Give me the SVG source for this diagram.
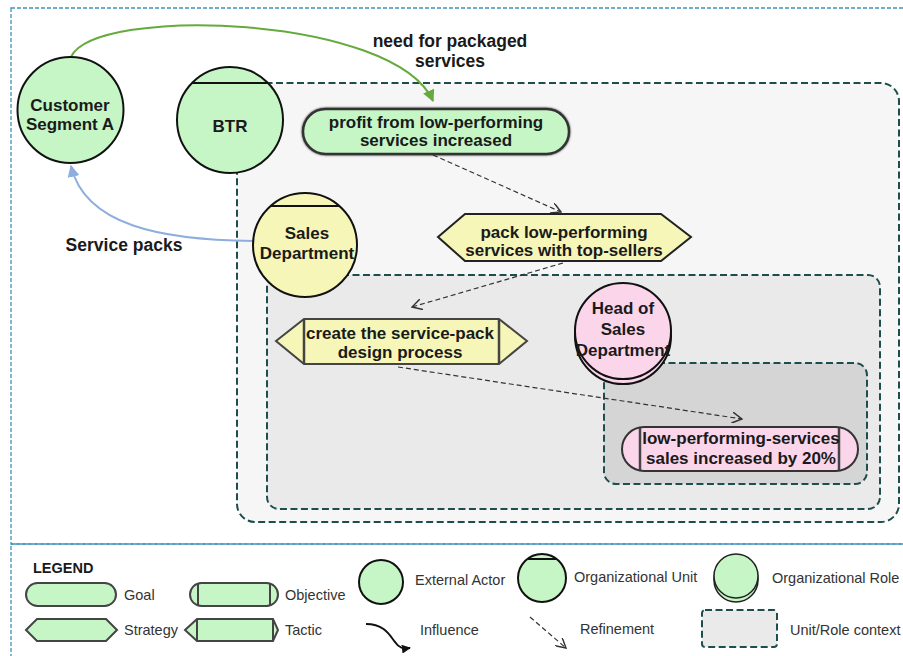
<svg xmlns="http://www.w3.org/2000/svg" width="903" height="656" viewBox="0 0 903 656">
<style>
text{font-family:"Liberation Sans",Arial,sans-serif;fill:#1a1a1a}
.b{font-weight:bold;font-size:17px;text-anchor:middle}
.e{font-weight:bold;font-size:17.5px;text-anchor:middle}
.lg{font-size:14.5px;fill:#333}
.frame{fill:none;stroke:#3f93bd;stroke-width:1.3;stroke-dasharray:4 2}
.ctx{stroke:#1e4d4d;stroke-width:2;stroke-dasharray:7 3.5}
.node{stroke:#111;stroke-width:2}
.el{stroke:#444;stroke-width:2}
.green{fill:#c6f6c6}
.yellow{fill:#f6f6b8}
.pink{fill:#fbd6eb}
.ref{fill:none;stroke:#333;stroke-width:1.2;stroke-dasharray:5 3}
</style>
<defs>
<marker id="agreen" viewBox="0 0 10 10" refX="9" refY="5" markerWidth="12" markerHeight="12" markerUnits="userSpaceOnUse" orient="auto"><path d="M0,0 L10,5 L0,10 Z" fill="#64aa3c"/></marker>
<marker id="ablue" viewBox="0 0 10 10" refX="9" refY="5" markerWidth="12" markerHeight="12" markerUnits="userSpaceOnUse" orient="auto"><path d="M0,0 L10,5 L0,10 Z" fill="#8eaee0"/></marker>
<marker id="ablack" viewBox="0 0 10 10" refX="9" refY="5" markerWidth="9" markerHeight="9" markerUnits="userSpaceOnUse" orient="auto"><path d="M0,0 L10,5 L0,10 Z" fill="#111"/></marker>
<marker id="aopen" viewBox="0 0 10 10" refX="9" refY="5" markerWidth="11" markerHeight="11" markerUnits="userSpaceOnUse" orient="auto"><path d="M0,0 L9,5 L0,10" fill="none" stroke="#333" stroke-width="1.3"/></marker>
<filter id="sh" x="-10%" y="-30%" width="120%" height="160%"><feGaussianBlur in="SourceAlpha" stdDeviation="1.2"/><feComponentTransfer><feFuncA type="linear" slope="0.8"/></feComponentTransfer><feMerge><feMergeNode/><feMergeNode in="SourceGraphic"/></feMerge></filter>
</defs>

<!-- frames -->
<rect class="frame" x="11" y="8" width="900" height="536"/>
<rect class="frame" x="11" y="544" width="900" height="120"/>

<!-- contexts -->
<g id="ctx-btr"><rect class="ctx" x="237" y="83" width="662" height="439" rx="18" fill="#f6f6f6"/></g>
<g id="ctx-sales"><rect class="ctx" x="267" y="275" width="613" height="234" rx="12" fill="#eaeaea"/></g>
<g id="ctx-head"><rect class="ctx" x="604" y="363" width="263" height="121" rx="12" fill="#d5d5d5"/></g>

<!-- connectors -->
<g id="connectors">
<path d="M71,57 C95,5 395,15 433,101" fill="none" stroke="#64aa3c" stroke-width="2" marker-end="url(#agreen)"/>
<path d="M253,241 C160,240 85,225 71,166" fill="none" stroke="#8eaee0" stroke-width="2" marker-end="url(#ablue)"/>
<path class="ref" d="M433,155 L561,212" marker-end="url(#aopen)"/>
<path class="ref" d="M563,263 L412,307" marker-end="url(#aopen)"/>
<path class="ref" d="M398,367 L742,419" marker-end="url(#aopen)"/>
<text class="e" x="450" y="47">need for packaged</text>
<text class="e" x="450" y="67">services</text>
<text class="e" x="124" y="251">Service packs</text>
</g>

<!-- nodes -->
<g id="customer-segment-a">
<circle class="node green" cx="70.5" cy="110" r="53"/>
<text class="b" x="70" y="111">Customer</text>
<text class="b" x="70" y="130">Segment A</text>
</g>
<g id="btr">
<circle class="node green" cx="230" cy="120" r="53"/>
<line x1="192" y1="83" x2="268" y2="83" stroke="#111" stroke-width="2"/>
<text class="b" x="230" y="132">BTR</text>
</g>
<g id="sales-department">
<circle class="node yellow" cx="305" cy="245" r="52"/>
<line x1="271" y1="206" x2="339" y2="206" stroke="#111" stroke-width="2"/>
<text class="b" x="307" y="239">Sales</text>
<text class="b" x="307" y="259">Department</text>
</g>
<g id="head-of-sales">
<circle class="node pink" cx="623" cy="336" r="48"/>
<circle class="node pink" cx="623" cy="331" r="48"/>
<text class="b" x="623" y="314">Head of</text>
<text class="b" x="623" y="335">Sales</text>
<text class="b" x="623" y="356">Department</text>
</g>
<g id="goal-profit">
<rect x="303" y="109" width="266" height="45" rx="22.5" class="green" stroke="#333" stroke-width="2.5" filter="url(#sh)"/>
<text class="b" x="436" y="128">profit from low-performing</text>
<text class="b" x="436" y="146">services increased</text>
</g>
<g id="strategy-pack">
<polygon points="438,237 465,214 661,214 691,237 661,261 465,261" class="yellow" stroke="#222" stroke-width="2"/>
<text class="b" x="564" y="238">pack low-performing</text>
<text class="b" x="564" y="256">services with top-sellers</text>
</g>
<g id="tactic-create">
<polygon points="276,341 304,319 499,319 527,341 499,364 304,364" class="yellow" stroke="#444" stroke-width="2"/>
<line x1="304" y1="319" x2="304" y2="364" stroke="#444" stroke-width="2.5"/>
<line x1="499" y1="319" x2="499" y2="364" stroke="#444" stroke-width="2.5"/>
<text class="b" x="400" y="339">create the service-pack</text>
<text class="b" x="400" y="358">design process</text>
</g>
<g id="objective-sales">
<rect x="622" y="427" width="236" height="44" rx="22" class="pink" stroke="#333" stroke-width="2"/>
<line x1="640" y1="428" x2="640" y2="470" stroke="#444" stroke-width="2.5"/>
<line x1="839" y1="428" x2="839" y2="470" stroke="#444" stroke-width="2.5"/>
<text class="b" x="741" y="444">low-performing-services</text>
<text class="b" x="741" y="464">sales increased by 20%</text>
</g>

<!-- legend -->
<g id="legend">
<text x="33" y="573" style="font-weight:bold;font-size:14.5px">LEGEND</text>
<rect x="26" y="583" width="90" height="23" rx="11.5" class="el green"/>
<text class="lg" x="124" y="600">Goal</text>
<rect x="190" y="583" width="88" height="23" rx="11.5" class="el green"/>
<line x1="198" y1="584" x2="198" y2="605" stroke="#444" stroke-width="2"/>
<line x1="270" y1="584" x2="270" y2="605" stroke="#444" stroke-width="2"/>
<text class="lg" x="285" y="600">Objective</text>
<polygon points="26,630 37,619 106,619 117,630 106,641 37,641" class="el green"/>
<text class="lg" x="124" y="635">Strategy</text>
<polygon points="185,630 197,619 273,619 278,630 273,641 197,641" class="el green"/>
<line x1="197" y1="619" x2="197" y2="641" stroke="#444" stroke-width="2"/>
<line x1="273" y1="619" x2="273" y2="641" stroke="#444" stroke-width="2"/>
<text class="lg" x="285" y="635">Tactic</text>
<circle cx="381" cy="582" r="22" class="node green"/>
<text class="lg" x="415" y="585">External Actor</text>
<circle cx="542" cy="578" r="24" class="node green"/>
<line x1="528" y1="559" x2="556" y2="559" stroke="#111" stroke-width="2"/>
<text class="lg" x="574" y="582">Organizational Unit</text>
<circle cx="736" cy="580" r="22" stroke="#222" stroke-width="1.5" class="green"/>
<circle cx="736" cy="576" r="22" stroke="#222" stroke-width="1.5" class="green"/>
<text class="lg" x="772" y="583">Organizational Role</text>
<path d="M366,624 C385,624 390,636 395,642 C399,648 403,649 410,648" fill="none" stroke="#111" stroke-width="2" marker-end="url(#ablack)"/>
<text class="lg" x="420" y="635">Influence</text>
<path class="ref" d="M530,617 L566,648" marker-end="url(#aopen)"/>
<text class="lg" x="580" y="634">Refinement</text>
<rect x="702" y="610" width="75" height="37" rx="3" class="ctx" fill="#eaeaea"/>
<text class="lg" x="790" y="635">Unit/Role context</text>
</g>
</svg>
